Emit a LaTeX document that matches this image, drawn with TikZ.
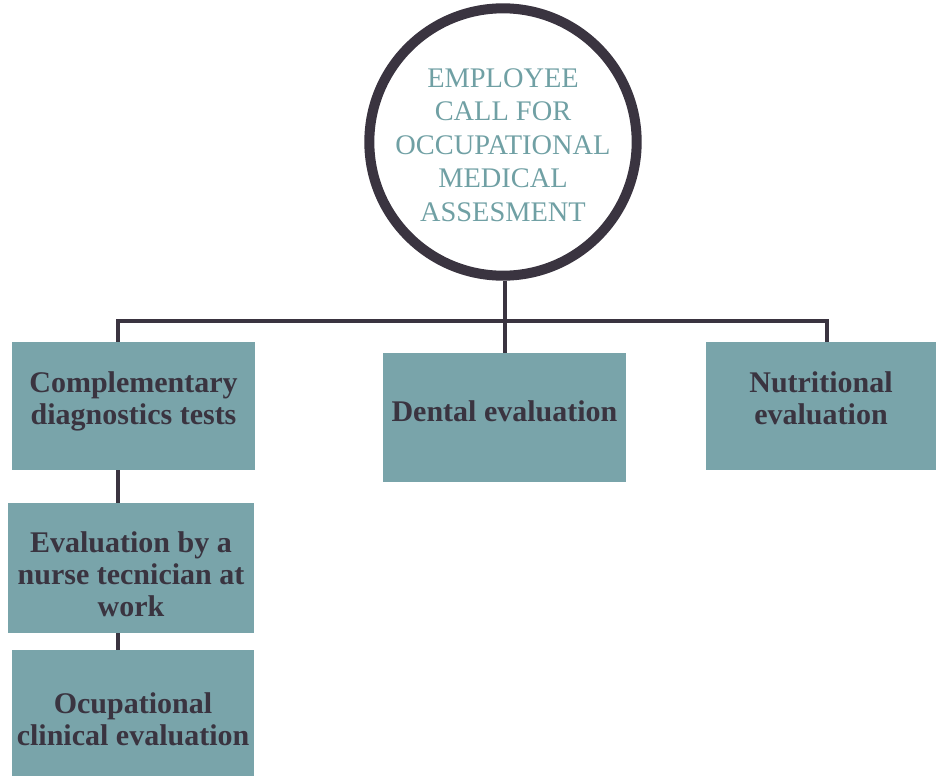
\documentclass[tikz,border=0pt]{standalone}
\usepackage{fontspec}
\setmainfont{Liberation Serif}
\usepackage{tikz}

\definecolor{boxteal}{RGB}{121,164,170}
\definecolor{inkdark}{RGB}{58,52,64}
\definecolor{softteal}{RGB}{112,160,164}

\tikzset{
  stepbox/.style={rectangle, fill=boxteal, text=inkdark, font=\bfseries\fontsize{15pt}{16pt}\selectfont,
                  align=center, inner sep=2pt},
  link/.style={draw=inkdark, line width=2pt}
}

\begin{document}
\begin{tikzpicture}[x=0.5pt,y=-0.5pt]
    \useasboundingbox (0,0) rectangle (936,776);

    \node[circle, draw=inkdark, line width=5pt, minimum size=131pt, inner sep=0pt, text=softteal,
          font=\fontsize{14.2pt}{16.75pt}\selectfont, align=center] (call) at (503,142)
          {\rule{0pt}{12.4pt}EMPLOYEE\\CALL FOR\\OCCUPATIONAL\\MEDICAL\\ASSESMENT};

    \node[stepbox, minimum width=121.5pt, minimum height=64pt] (comp) at (133.5,406)
          {Complementary\\diagnostics tests\\[-8pt]};
    \node[stepbox, minimum width=123pt, minimum height=65pt] (nurse) at (131,568)
          {\rule{0pt}{16.5pt}Evaluation by a\\nurse tecnician at\\work};
    \node[stepbox, minimum width=121pt, minimum height=63pt] (clin) at (133,713)
          {\rule{0pt}{16.5pt}Ocupational\\clinical evaluation};
    \node[stepbox, minimum width=121.5pt, minimum height=64.5pt] (dent) at (504.5,417.5)
          {Dental evaluation\\[-10pt]};
    \node[stepbox, minimum width=115pt, minimum height=64pt] (nutr) at (821,406)
          {Nutritional\\evaluation\\[-8pt]};

    \coordinate (hub) at (504.5,321);

    \draw[link] (call.south -| hub) -- (dent.north);
    \draw[link] ([xshift=-7.75pt]comp.north) |- (hub) -| ([xshift=3pt]nutr.north);
    \draw[link] ([xshift=-7.75pt]comp.south) -- ([xshift=-6.5pt]nurse.north);
    \draw[link] ([xshift=-6.5pt]nurse.south) -- ([xshift=-7.5pt]clin.north);
\end{tikzpicture}
\end{document}
